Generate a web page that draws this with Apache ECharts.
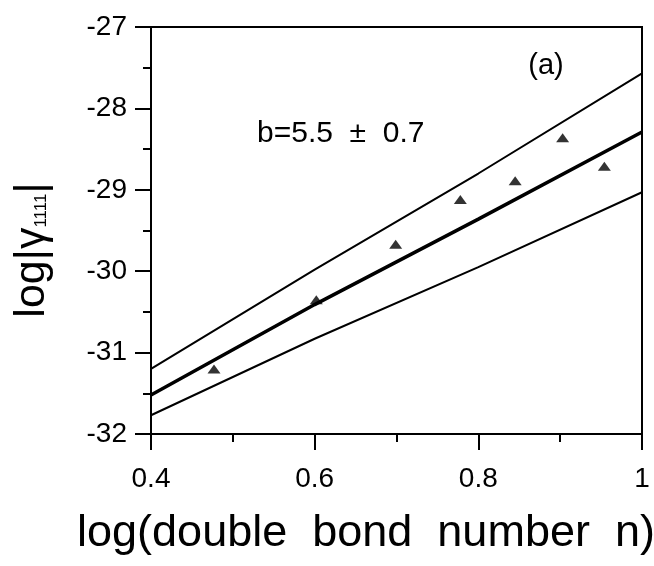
<!DOCTYPE html>
<html>
<head>
<meta charset="utf-8">
<script src="https://cdn.jsdelivr.net/npm/echarts@6/dist/echarts.min.js"></script>
<style>
  html, body { margin: 0; padding: 0; background: #fff; }
  #chart { width: 654px; height: 566px; }
</style>
</head>
<body>
<div id="chart"></div>
<script>
// measured points: log(n) for n = 3..9
const logN = [0.477, 0.602, 0.699, 0.778, 0.845, 0.903, 0.954];
const logGamma = [-31.20, -30.35, -29.67, -29.12, -28.89, -28.36, -28.71];

// fitted line and its upper / lower bounds
const fitX = [0.4, 0.6, 0.8, 1.0];
const fitMid = [-31.52, -30.41, -29.36, -28.29];
const fitUpper = [-31.20, -29.98, -28.80, -27.57];
const fitLower = [-31.77, -30.83, -29.95, -29.03];

const xTicks = [0.4, 0.6, 0.8, 1];
const yTicks = [-32, -31, -30, -29, -28, -27];

const font = '"Liberation Sans", Arial, sans-serif';

function pairs(xs, ys) {
    return xs.map((x, i) => [x, ys[i]]);
}

let myChart = echarts.init(document.getElementById('chart'));

myChart.setOption({
    animation: false,
    backgroundColor: '#fff',
    grid: {left: 151, right: 12, top: 27, bottom: 132, show: true, borderColor: '#000', borderWidth: 2},
    xAxis: {
        type: 'value',
        min: xTicks[0], max: xTicks[xTicks.length - 1], interval: 0.2,
        axisLine: {show: true, onZero: false, lineStyle: {color: '#000', width: 2}},
        axisTick: {show: true, inside: false, length: 16, lineStyle: {color: '#000', width: 2}},
        minorTick: {show: true, splitNumber: 2, length: 8, lineStyle: {color: '#000', width: 2}},
        splitLine: {show: false},
        axisLabel: {
            margin: 31, color: '#000', fontSize: 28, fontFamily: font,
            formatter: v => String(+v.toFixed(1))
        }
    },
    yAxis: {
        type: 'value',
        min: yTicks[0], max: yTicks[yTicks.length - 1], interval: 1,
        axisLine: {show: true, onZero: false, lineStyle: {color: '#000', width: 2}},
        axisTick: {show: true, inside: false, length: 16, lineStyle: {color: '#000', width: 2}},
        minorTick: {show: true, splitNumber: 2, length: 8, lineStyle: {color: '#000', width: 2}},
        splitLine: {show: false},
        axisLabel: {margin: 24, color: '#000', fontSize: 28, fontFamily: font}
    },
    series: [
        {
            type: 'line', data: pairs(fitX, fitUpper), symbol: 'none',
            lineStyle: {color: '#000', width: 2}
        },
        {
            type: 'line', data: pairs(fitX, fitMid), symbol: 'none',
            lineStyle: {color: '#000', width: 3.5}
        },
        {
            type: 'line', data: pairs(fitX, fitLower), symbol: 'none',
            lineStyle: {color: '#000', width: 2}
        },
        {
            type: 'scatter', data: pairs(logN, logGamma),
            symbol: 'triangle', symbolSize: [13, 9],
            itemStyle: {color: '#000'}
        }
    ],
    graphic: [
        {
            type: 'text', x: 546, y: 66,
            style: {text: '(a)', font: '29px ' + font, fill: '#000', align: 'center', verticalAlign: 'middle'}
        },
        {
            type: 'text', x: 257, y: 134,
            style: {text: 'b=5.5  \u00b1  0.7', font: '30px ' + font, fill: '#000', align: 'left', verticalAlign: 'middle'}
        },
        {
            type: 'text', x: 366, y: 534,
            style: {text: 'log(double  bond  number  n)', font: '45px ' + font, fill: '#000', align: 'center', verticalAlign: 'middle'}
        },
        {
            type: 'text', x: 32, y: 250, rotation: Math.PI / 2,
            style: {
                text: '{a|log|\u03b3}{s|1111}{a||}',
                align: 'center', verticalAlign: 'middle', fill: '#000',
                rich: {
                    a: {fontSize: 43, fontFamily: font, fill: '#000', color: '#000'},
                    s: {fontSize: 17, fontFamily: font, fill: '#000', color: '#000', padding: [18, 0, 0, 0]}
                }
            }
        }
    ]
});
</script>
</body>
</html>
